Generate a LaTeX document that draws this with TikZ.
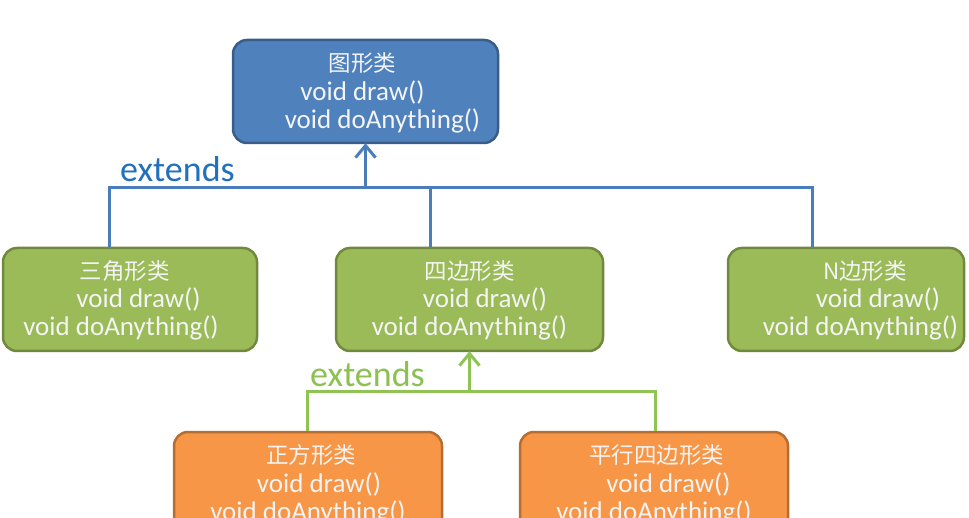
\documentclass[tikz,border=0pt]{standalone}
\usepackage{fontspec}
\setmainfont{Carlito}
\newfontfamily\cjk{Noto Sans CJK SC}
\usetikzlibrary{arrows.meta}
\definecolor{bfill}{HTML}{4F81BD}
\definecolor{bdraw}{HTML}{385D8A}
\definecolor{gfill}{HTML}{9BBB59}
\definecolor{gdraw}{HTML}{71893F}
\definecolor{ofill}{HTML}{F79646}
\definecolor{odraw}{HTML}{B66D31}
\definecolor{bline}{HTML}{4A7EBB}
\definecolor{btext}{HTML}{2070BE}
\definecolor{gline}{HTML}{8FC454}
\definecolor{gtext}{HTML}{8CC152}
\definecolor{boxtext}{HTML}{F4F4F4}
% #1 title shift, #2 title, #3 draw() shift, #4 doAnything() shift, #5 vertical shift
\newcommand\clsbody[5]{\raisebox{#5}[\height][\depth]{\begin{tabular}{@{}c@{}}%
  \kern#1pt{\cjk\fontsize{22.5}{28}\selectfont #2}\kern-#1pt\\
  \kern#3pt void draw()\kern-#3pt\\
  \kern#4pt void doAnything()\kern-#4pt\end{tabular}}}
\tikzset{
  cls/.style={rectangle, rounded corners=14pt, line width=2.5pt,
    text=boxtext, font=\fontsize{27}{28}\selectfont, inner sep=0pt,
    minimum height=103pt},
  bluecls/.style={cls, fill=bfill, draw=bdraw},
  greencls/.style={cls, fill=gfill, draw=gdraw},
  orangecls/.style={cls, fill=ofill, draw=odraw},
  bconn/.style={draw=bline, line width=3pt},
  gconn/.style={draw=gline, line width=3pt},
  barb/.style={-{Straight Barb[length=12pt,width=20pt,line width=3pt]}},
  exttext/.style={font=\fontsize{36}{36}\selectfont, inner sep=0pt, anchor=base west}
}
\begin{document}
\begin{tikzpicture}[x=1pt,y=-1pt]
\useasboundingbox (0,0) rectangle (969,518);
\clip (0,0) rectangle (969,518);
\fill[white] (0,0) rectangle (969,518);

\node[bluecls, minimum width=265pt] (shape) at (365.5,91.5)
  {\clsbody{-3}{图形类}{-3}{17}{-3pt}};

\node[greencls, minimum width=254pt] (tri) at (130,299.5)
  {\clsbody{-5}{三角形类}{8.5}{-9}{-2.5pt}};
\node[greencls, minimum width=267pt] (quad) at (469.5,299.5)
  {\clsbody{0}{四边形类}{15.5}{0}{-2.5pt}};
\node[greencls, minimum width=236pt] (ngon) at (846,299.5)
  {\clsbody{19}{N边形类}{32}{14.5}{-2.5pt}};

\node[orangecls, minimum width=268pt] (square) at (308,483.5)
  {\clsbody{3}{正方形类}{11}{0}{-3pt}};
\node[orangecls, minimum width=268pt] (para) at (654,483.5)
  {\clsbody{2.5}{平行四边形类}{14.5}{0}{-3pt}};

% blue inheritance
\coordinate (bj) at (365.5,188);
\draw[bconn] ([xshift=-21pt]tri.north) |- ([xshift=-34pt]ngon.north |- bj) -- ([xshift=-34pt]ngon.north);
\draw[bconn] ([xshift=-39.5pt]quad.north) -- ([xshift=-39.5pt]quad.north |- bj);
\draw[bconn, barb] (bj) -- ([yshift=1pt]shape.south);
\node[exttext, text=btext] (ext1) at (120,182) {extends};

% green inheritance
\coordinate (gj) at (469.5,392);
\draw[gconn] ([xshift=-1pt]square.north) |- ([xshift=1pt]para.north |- gj) -- ([xshift=1pt]para.north);
\draw[gconn, barb] (gj) -- ([yshift=1pt]quad.south);
\node[exttext, text=gtext] (ext2) at (310,387) {extends};
\end{tikzpicture}
\end{document}
